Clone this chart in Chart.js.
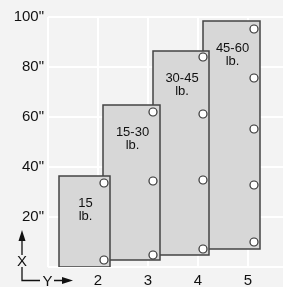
<!DOCTYPE html>
<html>
<head>
<meta charset="utf-8">
<script src="https://cdn.jsdelivr.net/npm/chart.js@4/dist/chart.umd.min.js"></script>
<style>
  html, body { margin: 0; padding: 0; background: #f3f3f3; }
  #wrap { width: 283px; height: 287px; }
</style>
</head>
<body>
<div id="wrap"><canvas id="sizeChart"></canvas></div>
<script>
// ================= DATA =================

const weightLabels = [["15", "lb."], ["15-30", "lb."], ["30-45", "lb."], ["45-60", "lb."]];
const barLeft  = [1.22, 2.1, 3.1, 4.1];
const barRight = [2.24, 3.24, 4.22, 5.24];
const barLow   = [0, 2.8, 4.8, 7.2];
const barHigh  = [36.4, 64.8, 86.4, 98.4];

// pins (circles) along the right side of each bar
const pinX = [2.12, 3.1, 4.1, 5.12];
const pinY = [
    [33.6, 2.8],
    [62, 34.4, 4.8],
    [84, 61.2, 34.8, 7.2],
    [95.2, 75.6, 55.2, 32.8, 10]
];

const xTicks = [1, 2, 3, 4, 5];
const yTicks = [0, 20, 40, 60, 80, 100];

// ================= DATASETS =================

const pinData = [];
pinY.forEach((ys, i) => ys.forEach(y => pinData.push({ x: pinX[i], y: y })));

// index 0 draws on top, so pins first, then bar 1 ... bar 4
const datasets = [{
    data: pinData,
    showLine: false,
    pointRadius: 4,
    pointBackgroundColor: "#ffffff",
    pointBorderColor: "#333333",
    pointBorderWidth: 1.2
}];

barLeft.forEach((l, i) => {
    const r = barRight[i], lo = barLow[i], hi = barHigh[i];
    datasets.push({
        data: [{x: l, y: lo}, {x: l, y: hi}, {x: r, y: hi}, {x: r, y: lo}, {x: l, y: lo}],
        showLine: true,
        fill: "shape",
        backgroundColor: "#d7d7d7",
        borderColor: "#444444",
        borderWidth: 1.5,
        tension: 0,
        pointRadius: 0
    });
});

// ================= PLUGINS =================

const barText = {
    id: "barText",
    afterDatasetsDraw(chart){
        const ctx = chart.ctx;
        const xs = chart.scales.x, ys = chart.scales.y;
        ctx.save();
        ctx.fillStyle = "#111";
        ctx.font = "13px 'Liberation Sans', Arial, sans-serif";
        ctx.textAlign = "center";
        ctx.textBaseline = "middle";
        weightLabels.forEach((lines, i) => {
            const cx = xs.getPixelForValue((barLeft[i] + barRight[i]) / 2);
            const top = ys.getPixelForValue(barHigh[i]);
            lines.forEach((t, k) => ctx.fillText(t, cx + 1, top + 27 + k * 13.5));
        });
        ctx.restore();
    }
};

const axisHint = {
    id: "axisHint",
    afterDraw(chart){
        const ctx = chart.ctx;
        ctx.save();
        ctx.strokeStyle = "#111";
        ctx.fillStyle = "#111";
        ctx.lineWidth = 1.3;
        ctx.beginPath();
        ctx.moveTo(22, 240); ctx.lineTo(22, 255);
        ctx.moveTo(22, 267); ctx.lineTo(22, 280.5); ctx.lineTo(40, 280.5);
        ctx.moveTo(54, 280.5); ctx.lineTo(63, 280.5);
        ctx.stroke();
        ctx.beginPath();
        ctx.moveTo(22, 230); ctx.lineTo(18.5, 241); ctx.lineTo(25.5, 241); ctx.closePath();
        ctx.fill();
        ctx.beginPath();
        ctx.moveTo(73, 280.5); ctx.lineTo(62, 277); ctx.lineTo(62, 284); ctx.closePath();
        ctx.fill();
        ctx.font = "15px 'Liberation Sans', Arial, sans-serif";
        ctx.textAlign = "center";
        ctx.textBaseline = "middle";
        ctx.fillText("X", 22, 262);
        ctx.fillText("Y", 47.5, 282);
        ctx.restore();
    }
};

// ================= CHART =================

new Chart(document.getElementById("sizeChart"), {
    type: "scatter",
    data: { datasets: datasets },
    options: {
        responsive: true,
        maintainAspectRatio: false,
        animation: false,
        layout: {
            autoPadding: false,
            padding: { top: 17, right: 0, left: 0, bottom: 0 }
        },
        plugins: {
            legend: { display: false },
            tooltip: { enabled: false }
        },
        scales: {
            x: {
                type: "linear",
                min: 1,
                max: 5.7,
                afterBuildTicks: s => { s.ticks = xTicks.map(v => ({ value: v })); },
                afterFit: s => { s.height = 20; s.paddingLeft = 0; s.paddingRight = 0; },
                grid: { color: "#ffffff", lineWidth: 2, drawTicks: false },
                border: { display: false },
                ticks: {
                    padding: 5,
                    color: "#111",
                    font: { family: "'Liberation Sans', Arial, sans-serif", size: 15 },
                    callback: v => v === 1 ? "" : String(v)
                }
            },
            y: {
                min: 0,
                max: 100,
                afterBuildTicks: s => { s.ticks = yTicks.map(v => ({ value: v })); },
                afterFit: s => { s.width = 48; s.paddingTop = 0; s.paddingBottom = 0; },
                grid: { color: "#ffffff", lineWidth: 2, drawTicks: false },
                border: { display: false },
                ticks: {
                    padding: 4,
                    color: "#111",
                    font: { family: "'Liberation Sans', Arial, sans-serif", size: 15 },
                    callback: v => v === 0 ? "" : v + "\""
                }
            }
        }
    },
    plugins: [barText, axisHint]
});
</script>
</body>
</html>
